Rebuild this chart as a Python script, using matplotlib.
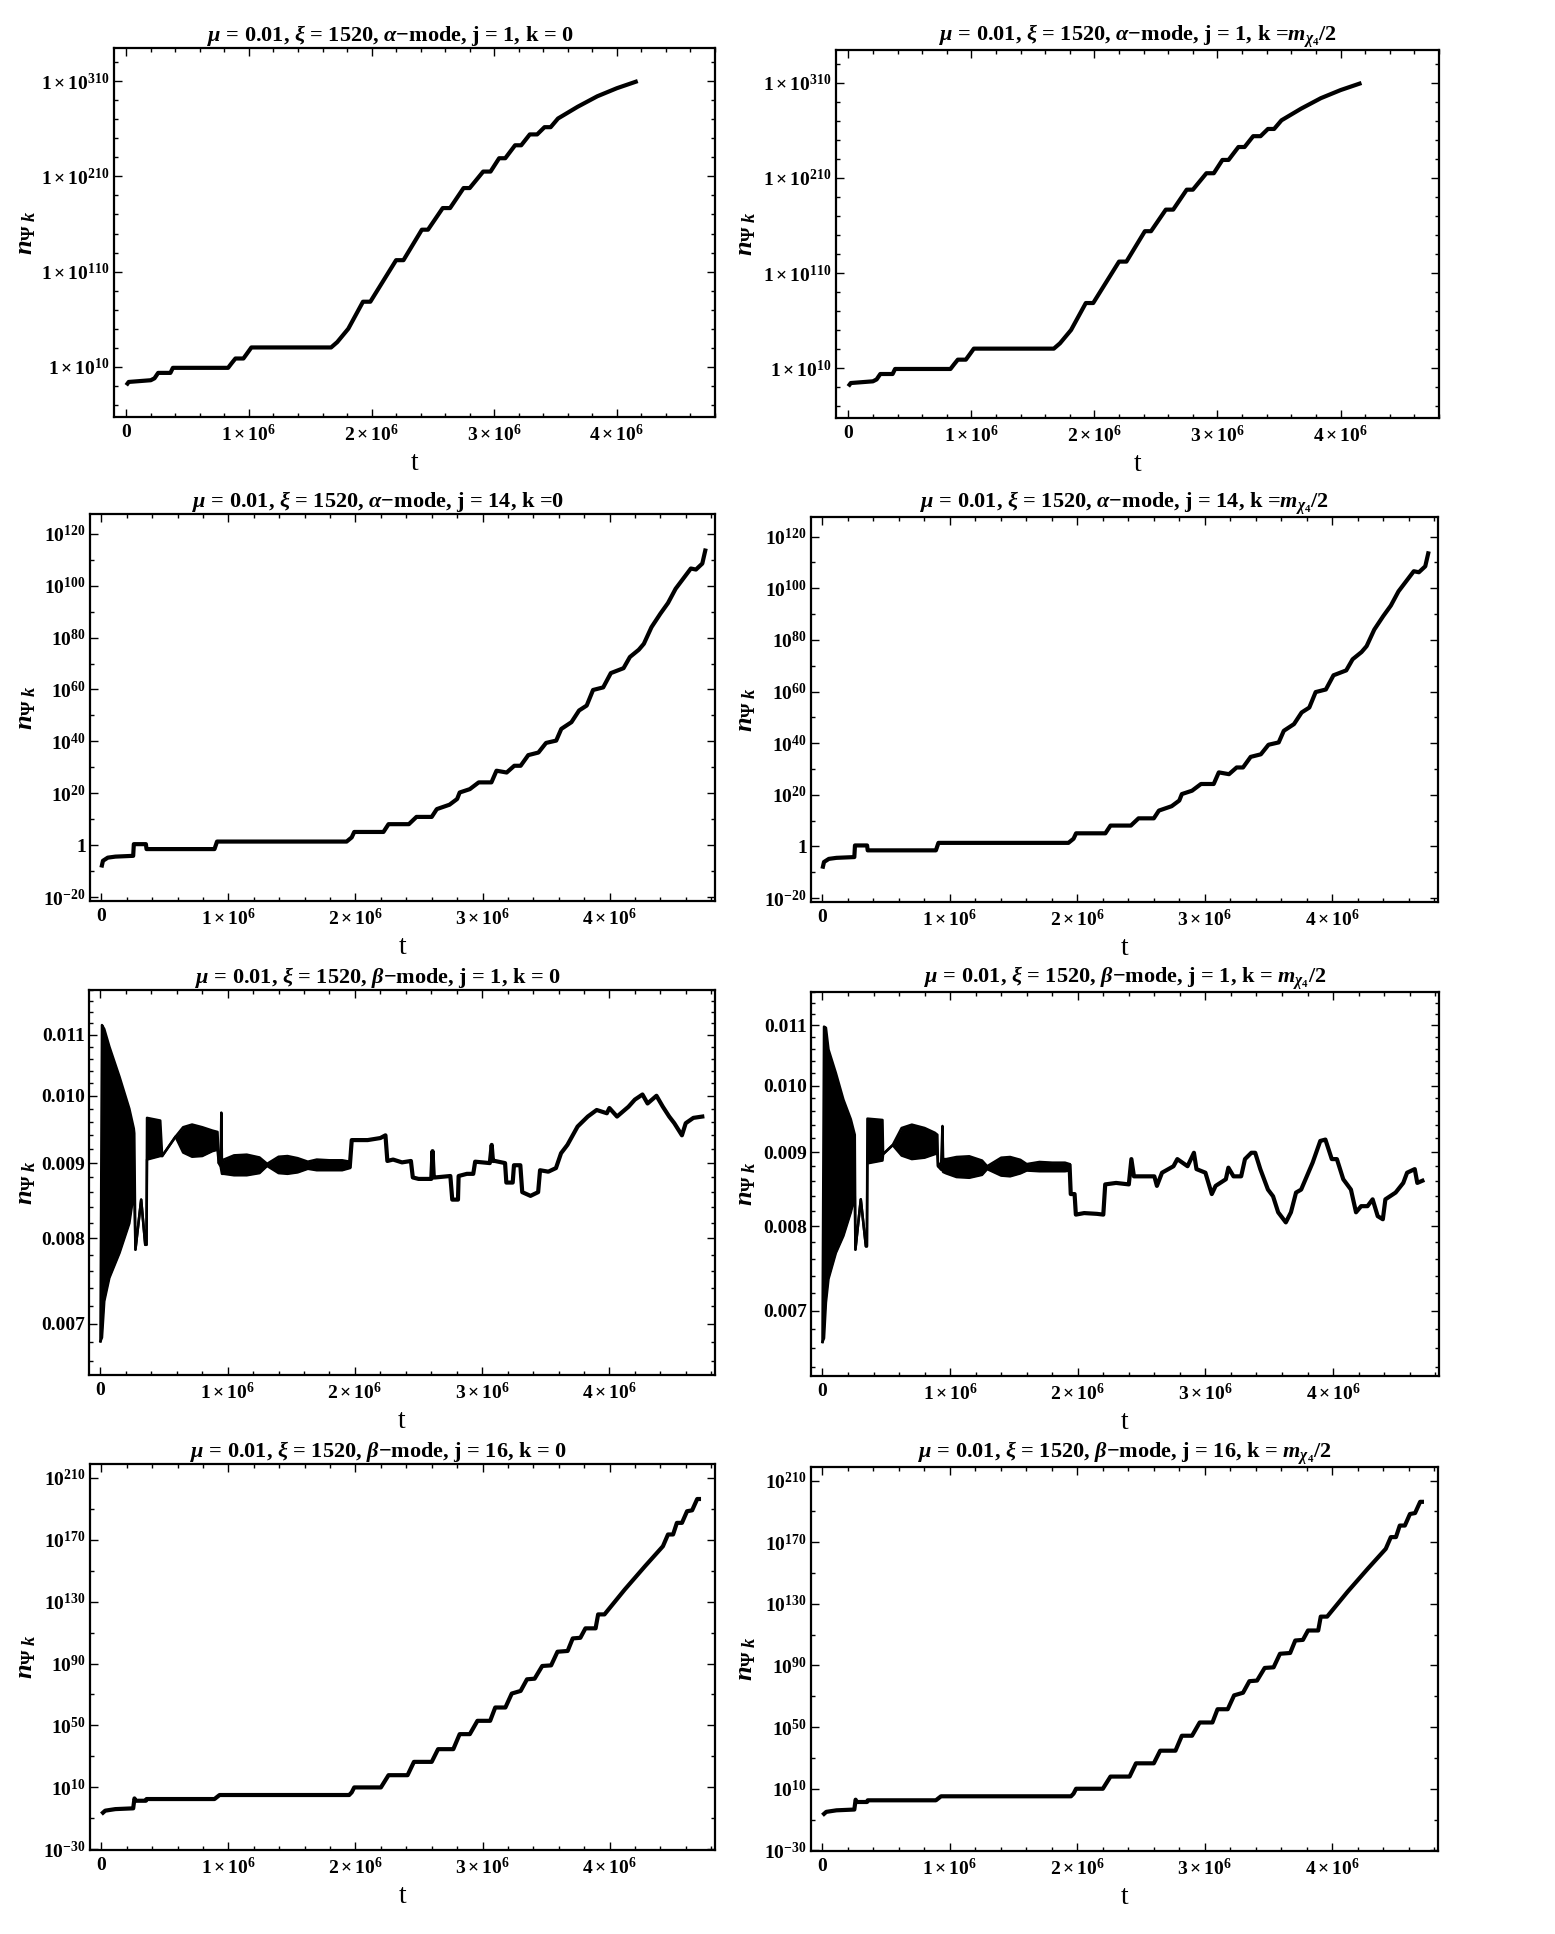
import numpy as np
import matplotlib
matplotlib.use("Agg")
import matplotlib.pyplot as plt
from matplotlib.ticker import FixedLocator, FixedFormatter, NullFormatter

plt.rcParams['font.family'] = ['Liberation Serif', 'DejaVu Serif']
plt.rcParams['font.weight'] = 'bold'
plt.rcParams['mathtext.fontset'] = 'custom'
plt.rcParams['mathtext.rm'] = 'Liberation Serif:bold'
plt.rcParams['mathtext.it'] = 'Liberation Serif:italic:bold'
plt.rcParams['mathtext.bf'] = 'Liberation Serif:bold'

# ---------------- data (t in units of 1e6) ----------------
# alpha-mode, j = 1  : log10(n)
alpha_j1_t = [0.000, 0.020, 0.100, 0.200, 0.230, 0.260, 0.360, 0.380, 0.830, 0.860, 0.890, 0.955,
              0.990, 1.020, 1.670, 1.720, 1.810, 1.930, 1.990, 2.200, 2.260, 2.410, 2.460, 2.580,
              2.640, 2.750, 2.800, 2.910, 2.970, 3.040, 3.090, 3.170, 3.220, 3.290, 3.350, 3.410,
              3.460, 3.520, 3.680, 3.840, 4.000, 4.170]
alpha_j1_logn = [-9.3, -5.8, -5.0, -4.0, -2.0, 3.7, 3.7, 9.0, 9.0, 14.0, 18.8, 18.8,
                 25.0, 30.4, 30.4, 36.0, 50.0, 78.4, 78.4, 122.0, 122.0, 154.0, 154.0, 176.7,
                 176.7, 197.7, 197.7, 215.0, 215.0, 229.0, 229.0, 242.6, 242.6, 254.0, 254.0, 261.6,
                 261.6, 270.7, 283.0, 294.0, 302.5, 310.0]

# alpha-mode, j = 14 : log10(n)
alpha_j14_t = [0.000, 0.012, 0.050, 0.110, 0.250, 0.255, 0.350, 0.355, 0.890, 0.910, 1.930, 1.970,
               1.990, 2.220, 2.260, 2.420, 2.480, 2.600, 2.640, 2.740, 2.800, 2.820, 2.900, 2.970,
               3.070, 3.110, 3.190, 3.250, 3.300, 3.360, 3.440, 3.500, 3.580, 3.620, 3.700, 3.760,
               3.820, 3.870, 3.950, 4.010, 4.110, 4.160, 4.230, 4.270, 4.330, 4.400, 4.460, 4.520,
               4.640, 4.680, 4.730, 4.757]
alpha_j14_logn = [-8.6, -6.0, -4.8, -4.4, -4.1, 0.4, 0.4, -1.5, -1.5, 1.4, 1.4, 3.0,
                  5.1, 5.1, 8.1, 8.1, 10.9, 10.9, 13.9, 15.6, 17.8, 20.3, 21.6, 24.2,
                  24.2, 28.7, 28.0, 30.6, 30.6, 34.7, 35.7, 39.4, 40.3, 44.8, 47.4, 51.9,
                  53.8, 59.8, 60.8, 66.3, 68.2, 72.5, 75.3, 77.6, 84.0, 89.2, 93.3, 98.8,
                  106.6, 106.2, 108.5, 114.3]

# beta-mode, j = 16 : log10(n)
beta_j16_t = [0.000, 0.030, 0.110, 0.250, 0.260, 0.270, 0.350, 0.355, 0.890, 0.930, 1.950, 1.970,
              1.990, 2.200, 2.260, 2.410, 2.460, 2.600, 2.650, 2.770, 2.820, 2.900, 2.960, 3.060,
              3.100, 3.180, 3.230, 3.300, 3.350, 3.410, 3.470, 3.540, 3.590, 3.670, 3.710, 3.770,
              3.810, 3.890, 3.910, 3.960, 4.120, 4.280, 4.420, 4.460, 4.500, 4.530, 4.570, 4.610,
              4.650, 4.690, 4.720]
beta_j16_logn = [-7.2, -5.0, -4.0, -3.5, 2.9, 1.4, 1.4, 2.5, 2.5, 5.1, 5.1, 6.8,
                 10.0, 10.0, 17.9, 17.9, 26.5, 26.5, 34.7, 34.7, 44.4, 44.4, 53.0, 53.0,
                 61.6, 61.6, 70.6, 72.3, 79.8, 80.2, 88.4, 88.8, 97.6, 98.1, 106.2, 106.6,
                 112.7, 112.7, 121.7, 121.7, 137.8, 152.9, 165.7, 173.3, 173.3, 180.8, 180.8, 188.3,
                 188.9, 196.2, 196.2]

# beta-mode, j = 1, k = 0 : n in units of 1e-3 (oscillating band: upper / lower envelope)
beta_j1_k0_band_t = [0.000, 0.012, 0.030, 0.070, 0.150, 0.227, 0.262, 0.266, 0.275, 0.320, 0.352, 0.362,
                     0.366, 0.470, 0.485, 0.590, 0.650, 0.720, 0.800, 0.880, 0.920, 0.930, 0.945, 0.950,
                     0.955, 0.970, 1.050, 1.150, 1.250, 1.310, 1.400, 1.470, 1.550, 1.630, 1.700, 1.800,
                     1.900, 1.960]
beta_j1_k0_band_hi = [6.81, 11.17, 11.10, 10.80, 10.30, 9.80, 9.50, 9.43, 7.86, 8.50, 7.92, 7.92,
                      9.66, 9.62, 9.10, 9.38, 9.52, 9.56, 9.52, 9.47, 9.45, 9.00, 9.05, 9.74,
                      9.00, 9.05, 9.11, 9.12, 9.08, 8.99, 9.09, 9.10, 9.07, 9.02, 9.05, 9.04,
                      9.04, 9.02]
beta_j1_k0_band_lo = [6.81, 6.85, 7.25, 7.52, 7.82, 8.19, 8.59, 8.59, 7.86, 8.50, 7.92, 7.92,
                      9.05, 9.10, 9.10, 9.38, 9.15, 9.09, 9.10, 9.17, 9.19, 9.00, 8.95, 8.90,
                      8.85, 8.85, 8.83, 8.83, 8.86, 8.96, 8.86, 8.85, 8.87, 8.92, 8.90, 8.90,
                      8.90, 8.93]
beta_j1_k0_line_t = [1.96, 1.975, 2.00, 2.10, 2.20, 2.24, 2.255, 2.30, 2.37, 2.44, 2.455, 2.50,
                     2.60, 2.61, 2.62, 2.63, 2.75, 2.765, 2.81, 2.815, 2.88, 2.93, 2.945, 3.06,
                     3.075, 3.085, 3.10, 3.18, 3.19, 3.24, 3.25, 3.30, 3.315, 3.38, 3.44, 3.455,
                     3.52, 3.58, 3.62, 3.67, 3.75, 3.83, 3.90, 3.98, 4.00, 4.06, 4.15, 4.20,
                     4.26, 4.30, 4.37, 4.42, 4.47, 4.51, 4.57, 4.60, 4.66, 4.73]
beta_j1_k0_line_n = [8.96, 9.33, 9.33, 9.33, 9.36, 9.40, 9.03, 9.05, 9.01, 9.03, 8.80, 8.78,
                     8.78, 9.17, 8.80, 8.80, 8.82, 8.50, 8.50, 8.82, 8.85, 8.85, 9.02, 9.00,
                     9.26, 9.03, 9.03, 9.00, 8.73, 8.73, 8.97, 8.97, 8.60, 8.55, 8.60, 8.90,
                     8.88, 8.93, 9.14, 9.26, 9.53, 9.68, 9.78, 9.73, 9.81, 9.68, 9.83, 9.94,
                     10.02, 9.88, 10.00, 9.83, 9.68, 9.58, 9.40, 9.58, 9.66, 9.68]

# beta-mode, j = 1, k = m/2 : n in units of 1e-3
beta_j1_kh_band_t = [0.000, 0.012, 0.027, 0.047, 0.105, 0.164, 0.222, 0.253, 0.258, 0.300, 0.340, 0.348,
                     0.352, 0.470, 0.475, 0.550, 0.620, 0.700, 0.800, 0.880, 0.900, 0.905, 0.930, 0.940,
                     0.945, 0.970, 1.050, 1.150, 1.250, 1.290, 1.400, 1.470, 1.550, 1.600, 1.700, 1.800,
                     1.900, 1.936]
beta_j1_kh_band_hi = [6.66, 10.98, 10.96, 10.59, 10.20, 9.78, 9.48, 9.25, 7.71, 8.35, 7.75, 7.75,
                      9.49, 9.47, 8.97, 9.10, 9.35, 9.40, 9.35, 9.28, 9.25, 8.80, 8.85, 9.38,
                      8.90, 8.90, 8.93, 8.94, 8.88, 8.80, 8.92, 8.93, 8.89, 8.83, 8.86, 8.85,
                      8.85, 8.83]
beta_j1_kh_band_lo = [6.66, 6.70, 7.09, 7.36, 7.67, 7.88, 8.18, 8.39, 7.71, 8.35, 7.75, 7.75,
                      8.84, 8.88, 8.97, 9.10, 8.95, 8.90, 8.92, 8.97, 8.98, 8.80, 8.75, 8.75,
                      8.72, 8.70, 8.65, 8.64, 8.68, 8.76, 8.67, 8.66, 8.70, 8.74, 8.73, 8.73,
                      8.73, 8.74]
beta_j1_kh_line_t = [1.936, 1.945, 1.975, 1.985, 2.05, 2.15, 2.20, 2.215, 2.30, 2.40, 2.42, 2.44,
                     2.60, 2.62, 2.66, 2.75, 2.78, 2.86, 2.91, 2.93, 3.00, 3.05, 3.08, 3.16,
                     3.18, 3.22, 3.28, 3.31, 3.36, 3.39, 3.43, 3.49, 3.53, 3.57, 3.63, 3.67,
                     3.71, 3.75, 3.84, 3.90, 3.94, 3.99, 4.03, 4.08, 4.14, 4.18, 4.22, 4.27,
                     4.31, 4.35, 4.39, 4.41, 4.49, 4.55, 4.58, 4.64, 4.66, 4.70]
beta_j1_kh_line_n = [8.80, 8.42, 8.42, 8.15, 8.17, 8.16, 8.15, 8.55, 8.57, 8.55, 8.90, 8.66,
                     8.66, 8.53, 8.71, 8.80, 8.90, 8.80, 8.99, 8.76, 8.71, 8.42, 8.53, 8.62,
                     8.78, 8.66, 8.66, 8.90, 8.99, 8.99, 8.76, 8.48, 8.39, 8.18, 8.05, 8.18,
                     8.44, 8.48, 8.85, 9.16, 9.18, 8.90, 8.90, 8.62, 8.48, 8.18, 8.26, 8.26,
                     8.35, 8.13, 8.09, 8.35, 8.44, 8.57, 8.71, 8.76, 8.57, 8.60]

# ticks
x_major = [0, 1e6, 2e6, 3e6, 4e6]
x_major_labels = ["0", r"$1\times10^{6}$", r"$2\times10^{6}$", r"$3\times10^{6}$", r"$4\times10^{6}$"]
y_a1_major = [10, 110, 210, 310]
y_a1_labels = [r"$1\times10^{10}$", r"$1\times10^{110}$", r"$1\times10^{210}$", r"$1\times10^{310}$"]
y_a14_major = [-20, 0, 20, 40, 60, 80, 100, 120]
y_a14_labels = [r"$10^{-20}$", "1", r"$10^{20}$", r"$10^{40}$", r"$10^{60}$", r"$10^{80}$",
                r"$10^{100}$", r"$10^{120}$"]
y_b16_major = [-30, 10, 50, 90, 130, 170, 210]
y_b16_labels = [r"$10^{-30}$", r"$10^{10}$", r"$10^{50}$", r"$10^{90}$", r"$10^{130}$",
                r"$10^{170}$", r"$10^{210}$"]
y_b1_major = [0.007, 0.008, 0.009, 0.010, 0.011]
y_b1_labels = ["0.007", "0.008", "0.009", "0.010", "0.011"]

titles = {
    'L1': r"$\mu$ = 0.01, $\xi$ = 1520, $\alpha$−mode, j = 1, k = 0",
    'R1': r"$\mu$ = 0.01, $\xi$ = 1520, $\alpha$−mode, j = 1, k =$m_{\chi_4}$/2",
    'L2': r"$\mu$ = 0.01, $\xi$ = 1520, $\alpha$−mode, j = 14, k =0",
    'R2': r"$\mu$ = 0.01, $\xi$ = 1520, $\alpha$−mode, j = 14, k =$m_{\chi_4}$/2",
    'L3': r"$\mu$ = 0.01, $\xi$ = 1520, $\beta$−mode, j = 1, k = 0",
    'R3': r"$\mu$ = 0.01, $\xi$ = 1520, $\beta$−mode, j = 1, k = $m_{\chi_4}$/2",
    'L4': r"$\mu$ = 0.01, $\xi$ = 1520, $\beta$−mode, j = 16, k = 0",
    'R4': r"$\mu$ = 0.01, $\xi$ = 1520, $\beta$−mode, j = 16, k = $m_{\chi_4}$/2",
}

# ---------------- layout ----------------
W, H = 1555, 1934
fig = plt.figure(figsize=(W / 100, H / 100), dpi=100)

# pixel boxes: left, right, top, bottom
boxes = {
    'L1': (114, 715, 48, 417), 'R1': (836, 1439, 50, 418),
    'L2': (90, 715, 514, 901), 'R2': (811, 1438, 517, 902),
    'L3': (89, 715, 990, 1375), 'R3': (811, 1439, 992, 1376),
    'L4': (90, 715, 1464, 1850), 'R4': (811, 1438, 1467, 1851),
}
ylabel_x = {'L': 26, 'R': 746}
title_shift = {'L': -24, 'R': 0}

LW = 3.0


def make_ax(key):
    l, r, t, b = boxes[key]
    ax = fig.add_axes([l / W, 1 - b / H, (r - l) / W, (b - t) / H])
    return ax


def style(ax, key, xlim):
    ax.set_xlim(*xlim)
    ax.xaxis.set_major_locator(FixedLocator(x_major))
    ax.xaxis.set_major_formatter(FixedFormatter(x_major_labels))
    ax.xaxis.set_minor_locator(FixedLocator([v * 1e6 for v in np.arange(0.2, 4.81, 0.2)
                                             if abs(v - round(v)) > 1e-6]))
    ax.xaxis.set_minor_formatter(NullFormatter())
    ax.tick_params(which='both', direction='in', top=True, right=True, width=1.0,
                   labelsize=14, colors='black')
    ax.tick_params(axis='x', pad=5)
    ax.tick_params(axis='y', pad=3)
    ax.tick_params(which='major', length=5.5)
    ax.tick_params(which='minor', length=3)
    for s in ax.spines.values():
        s.set_linewidth(1.6)
    l, r, t, b = boxes[key]
    ttl = ax.set_title(titles[key], fontsize=16, fontweight='bold', pad=3)
    ttl.set_x(0.5 + title_shift[key[0]] / (r - l))
    ax.set_xlabel('t', fontsize=20, fontweight='normal', labelpad=4)
    fig.text(ylabel_x[key[0]] / W, 1 - (t + b) / 2 / H, r"$n_{\Psi\ k}$", rotation=90,
             fontsize=19, ha='center', va='center')


def log_panel(key, t, logn, ylim, major, labels, minor_step, xlim):
    ax = make_ax(key)
    ax.plot(np.array(t) * 1e6, logn, color='black', lw=LW, solid_capstyle='butt')
    ax.set_ylim(*ylim)
    ax.yaxis.set_major_locator(FixedLocator(major))
    ax.yaxis.set_major_formatter(FixedFormatter(labels))
    mn = [v for v in np.arange(major[0] - 3 * minor_step, ylim[1] + minor_step, minor_step)
          if min(abs(v - m) for m in major) > 1e-6]
    ax.yaxis.set_minor_locator(FixedLocator(mn))
    ax.yaxis.set_minor_formatter(NullFormatter())
    style(ax, key, xlim)
    return ax


def beta_panel(key, bt, bhi, blo, lt, ln, ylim, xlim):
    ax = make_ax(key)
    ax.set_yscale('log')
    tt = np.array(bt) * 1e6
    hi = np.array(bhi) * 1e-3
    lo = np.array(blo) * 1e-3
    ax.fill_between(tt, lo, hi, color='black', lw=0)
    ax.plot(tt, hi, color='black', lw=1.8)
    ax.plot(tt, lo, color='black', lw=1.8)
    ax.plot(np.array(lt) * 1e6, np.array(ln) * 1e-3, color='black', lw=3.0)
    ax.set_ylim(*ylim)
    ax.yaxis.set_major_locator(FixedLocator(y_b1_major))
    ax.yaxis.set_major_formatter(FixedFormatter(y_b1_labels))
    mn = [v for v in np.arange(0.0062, 0.0120, 0.0002)
          if min(abs(v - m) for m in y_b1_major) > 1e-7]
    ax.yaxis.set_minor_locator(FixedLocator(mn))
    ax.yaxis.set_minor_formatter(NullFormatter())
    style(ax, key, xlim)
    return ax


xl1 = (-0.1e6, 4.8e6)
xl = (-0.09e6, 4.83e6)

log_panel('L1', alpha_j1_t, alpha_j1_logn, (-42.6, 344.7), y_a1_major, y_a1_labels, 20, xl1)
log_panel('R1', alpha_j1_t, alpha_j1_logn, (-42.6, 344.7), y_a1_major, y_a1_labels, 20, xl1)
log_panel('L2', alpha_j14_t, alpha_j14_logn, (-21.5, 127.6), y_a14_major, y_a14_labels, 10, xl)
log_panel('R2', alpha_j14_t, alpha_j14_logn, (-21.5, 127.6), y_a14_major, y_a14_labels, 10, xl)
beta_panel('L3', beta_j1_k0_band_t, beta_j1_k0_band_hi, beta_j1_k0_band_lo,
           beta_j1_k0_line_t, beta_j1_k0_line_n, (0.00646, 0.0118), xl)
beta_panel('R3', beta_j1_kh_band_t, beta_j1_kh_band_hi, beta_j1_kh_band_lo,
           beta_j1_kh_line_t, beta_j1_kh_line_n, (0.00631, 0.0116), xl)
log_panel('L4', beta_j16_t, beta_j16_logn, (-30.4, 218.8), y_b16_major, y_b16_labels, 20, xl)
log_panel('R4', beta_j16_t, beta_j16_logn, (-30.4, 218.8), y_b16_major, y_b16_labels, 20, xl)

fig.savefig('out.png', dpi=100, facecolor='white')
